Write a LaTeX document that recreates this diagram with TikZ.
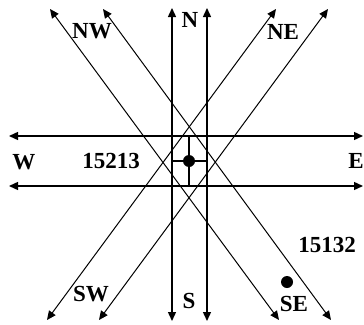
\documentclass[tikz,border=0pt]{standalone}
\usepackage{fontspec}
\setmainfont{Liberation Serif}
\usetikzlibrary{arrows.meta}
\begin{document}
\begin{tikzpicture}[x=1pt,y=-1pt,
  axis/.style={line width=1.4pt,{Triangle[length=9pt,width=8pt]}-{Triangle[length=9pt,width=8pt]}},
  diag/.style={line width=1pt,{Triangle[length=9pt,width=8pt]}-{Triangle[length=9pt,width=8pt]}},
  inner/.style={line width=1.4pt},
  lbl/.style={font=\bfseries\fontsize{23}{23}\selectfont,inner sep=0pt}]
\useasboundingbox[fill=white] (0,0) rectangle (364,324);
% axis endpoints
\coordinate (h1w) at (9,136);   \coordinate (h1e) at (363,136);
\coordinate (h2w) at (9,186);   \coordinate (h2e) at (363,186);
\coordinate (v1n) at (172,8);   \coordinate (v1s) at (172,321);
\coordinate (v2n) at (207,8);   \coordinate (v2s) at (207,321);
% diagonal endpoints
\coordinate (d1a) at (50,9);    \coordinate (d1b) at (279,320);
\coordinate (d2a) at (103,9);   \coordinate (d2b) at (331,320);
\coordinate (d3a) at (276,9);   \coordinate (d3b) at (47,320);
\coordinate (d4a) at (328,9);   \coordinate (d4b) at (99,320);
% centre
\coordinate (cn) at (189,136);  \coordinate (cs) at (189,186);
\coordinate (cw) at (172,161);  \coordinate (ce) at (207,161);
\draw[axis] (h1w) -- (h1e);
\draw[axis] (h2w) -- (h2e);
\draw[axis] (v1n) -- (v1s);
\draw[axis] (v2n) -- (v2s);
\draw[diag] (d1a) -- (d1b);
\draw[diag] (d2a) -- (d2b);
\draw[diag] (d3a) -- (d3b);
\draw[diag] (d4a) -- (d4b);
\draw[inner] (cn) -- (cs);
\draw[inner] (cw) -- (ce);
\fill (189,161) circle (6) node (dot) {};
\fill (287,282) circle (6) node (sedot) {};
\node[lbl] (nw) at (92,31) {NW};
\node[lbl] (n) at (190,20) {N};
\node[lbl] (ne) at (283,32) {NE};
\node[lbl] (w) at (24,162) {W};
\node[lbl] (z1) at (111,161) {15213};
\node[lbl] (e) at (356,161) {E};
\node[lbl] (z2) at (327,245) {15132};
\node[lbl] (sw) at (91,294) {SW};
\node[lbl] (s) at (189,301) {S};
\node[lbl] (se) at (294,304) {SE};
\end{tikzpicture}
\end{document}
